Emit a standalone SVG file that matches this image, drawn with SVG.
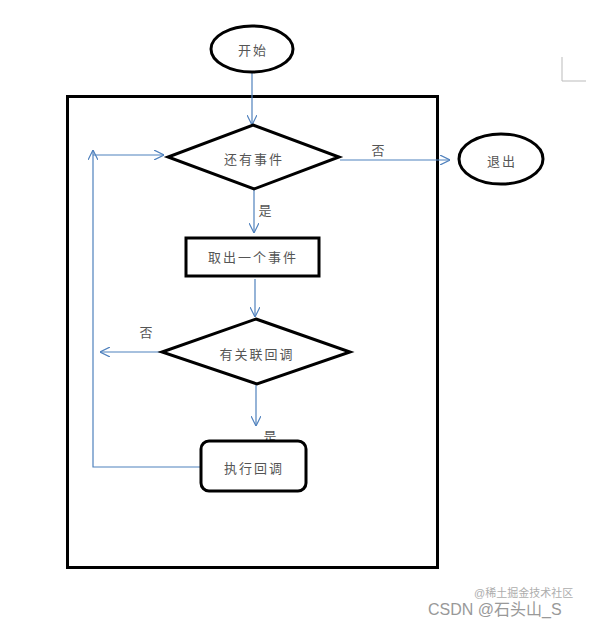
<svg xmlns="http://www.w3.org/2000/svg" width="597" height="627" viewBox="0 0 597 627">
<style>
.shape{fill:#fff;stroke:#000;stroke-width:3}
.conn{fill:none;stroke:#4f81bd;stroke-width:1.2}
.t{font-family:"Noto Sans CJK SC","Liberation Sans",sans-serif;font-size:13px;fill:#555;text-anchor:middle;dominant-baseline:central;letter-spacing:2px}
.wm{font-family:"Liberation Sans","Noto Sans CJK SC",sans-serif;fill:#999}
</style>
<defs>
<marker id="arr" viewBox="0 0 10 10" refX="10" refY="5" markerWidth="10" markerHeight="10" markerUnits="userSpaceOnUse" orient="auto">
<path d="M0,0 L10,5 L0,10" fill="none" stroke="#4f81bd" stroke-width="1.2"/>
</marker>
</defs>
<rect x="67.5" y="96.5" width="370" height="471" fill="none" stroke="#000" stroke-width="3"/>
<path d="M562,57 V81 H586" fill="none" stroke="#bbb" stroke-width="1"/>
<g id="connectors">
<path class="conn" d="M252,73 V125" marker-end="url(#arr)"/>
<path class="conn" d="M340,160 H450" marker-end="url(#arr)"/>
<path class="conn" d="M254,190 V233" marker-end="url(#arr)"/>
<path class="conn" d="M255,279 V317" marker-end="url(#arr)"/>
<path class="conn" d="M162,352 H100" marker-end="url(#arr)"/>
<path class="conn" d="M256,385 V426" marker-end="url(#arr)"/>
<path class="conn" d="M200,467 H93 V150" marker-end="url(#arr)"/>
<path class="conn" d="M93,155 H164" marker-end="url(#arr)"/>
<text class="t" x="379" y="149">否</text>
<text class="t" x="266" y="209">是</text>
<text class="t" x="147" y="331">否</text>
<text class="t" x="271" y="435">是</text>
</g>
<g id="start">
<ellipse class="shape" cx="252" cy="49" rx="41" ry="23"/>
<text class="t" x="253" y="49">开始</text>
</g>
<g id="has-event">
<polygon class="shape" points="253,125 339,157 254,189 168,157"/>
<text class="t" x="254" y="158">还有事件</text>
</g>
<g id="exit">
<ellipse class="shape" cx="501" cy="159" rx="42" ry="25"/>
<text class="t" x="502" y="160">退出</text>
</g>
<g id="take-event">
<rect class="shape" x="186" y="238" width="133" height="38"/>
<text class="t" x="253" y="256">取出一个事件</text>
</g>
<g id="has-callback">
<polygon class="shape" points="256,319 350,352 257,384 162,352"/>
<text class="t" x="257" y="353">有关联回调</text>
</g>
<g id="run-callback">
<rect class="shape" x="201" y="441" width="105" height="50" rx="8"/>
<text class="t" x="254" y="467">执行回调</text>
</g>
<text class="wm" x="474" y="597" font-size="11" fill="#bbb" opacity="0.8">@稀土掘金技术社区</text>
<text class="wm" x="428" y="615" font-size="16">CSDN @石头山_S</text>
</svg>
